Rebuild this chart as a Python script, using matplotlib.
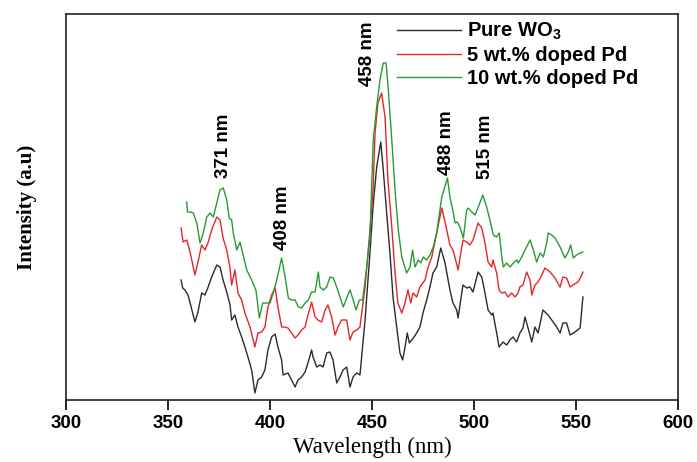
import matplotlib
matplotlib.use("Agg")
import matplotlib.pyplot as plt

plt.rcParams['mathtext.fontset'] = 'custom'
plt.rcParams['mathtext.rm'] = 'Liberation Sans'
plt.rcParams['mathtext.bf'] = 'Liberation Sans:bold'

# ---- data (wavelength nm, intensity a.u.) ----
pure_x = [356.4, 357.2, 358.3, 359.8, 361.1, 363.2, 364.7, 366.5, 368.1, 369.5, 371.4, 373.9, 375.5, 377.0,
          378.8, 380.4, 381.2, 382.8, 384.3, 386.1, 387.7, 389.2, 391.0, 392.6, 394.1, 395.9, 397.5, 399.0,
          400.8, 402.5, 403.9, 405.7, 406.4, 408.8, 410.6, 412.3, 413.7, 415.5, 417.2, 418.6, 420.4, 421.1,
          422.9, 424.5, 426.0, 427.8, 429.4, 430.9, 432.7, 434.3, 435.8, 437.6, 439.2, 440.7, 442.5, 444.1,
          446.6, 449.0, 450.5, 452.3, 454.3, 455.4, 457.2, 458.8, 460.3, 462.1, 463.7, 465.0, 466.2, 467.3,
          468.3, 469.5, 470.6, 471.9, 473.5, 475.0, 476.8, 478.4, 479.9, 481.7, 483.7, 485.8, 488.2, 489.7,
          491.5, 492.2, 494.0, 494.6, 496.4, 498.0, 499.5, 502.0, 503.8, 505.4, 506.9, 508.7, 509.3, 511.1,
          512.3, 514.2, 516.0, 517.6, 519.1, 520.9, 522.5, 524.0, 525.0, 526.5, 528.3, 529.9, 531.4, 533.8,
          536.3, 538.1, 540.5, 542.2, 543.6, 545.4, 547.1, 549.5, 552.0, 553.4]
pure_y = [120, 112, 110, 105, 95, 78, 88, 107, 105, 112, 123, 135, 133, 120,
          108, 95, 80, 85, 73, 63, 53, 43, 30, 7, 20, 23, 30, 50,
          63, 66, 53, 40, 25, 27, 20, 13, 20, 23, 28, 37, 50, 43,
          33, 35, 33, 47, 48, 40, 17, 23, 30, 33, 13, 23, 27, 25,
          80, 147, 193, 233, 258, 233, 187, 147, 103, 73, 47, 40, 53, 67,
          57, 60, 63, 67, 73, 87, 100, 113, 127, 133, 152, 137, 110, 97,
          90, 82, 107, 115, 112, 113, 108, 128, 123, 107, 90, 85, 87, 67,
          53, 58, 55, 60, 63, 58, 67, 72, 83, 72, 58, 73, 67, 90,
          85, 80, 73, 67, 77, 77, 65, 68, 72, 103]

pd5_x = [356.4, 357.4, 359.2, 360.8, 363.2, 364.7, 366.5, 368.1, 369.6, 371.4, 373.9, 375.5, 377.0, 378.8,
         380.4, 381.2, 382.8, 384.3, 386.1, 387.7, 390.2, 392.6, 394.1, 395.9, 397.5, 399.0, 400.8, 402.5,
         403.9, 405.7, 407.4, 408.8, 410.6, 412.3, 413.7, 415.5, 417.2, 418.6, 420.4, 422.1, 423.5, 425.3,
         427.0, 428.4, 430.2, 431.9, 433.3, 435.1, 437.6, 439.2, 440.7, 442.5, 444.1, 446.6, 449.0, 450.5,
         451.5, 452.9, 454.7, 456.4, 457.8, 459.7, 461.3, 462.7, 464.6, 466.2, 467.6, 469.0, 470.1, 471.9,
         473.5, 476.0, 477.5, 479.3, 481.7, 484.2, 485.8, 488.2, 489.7, 491.0, 492.2, 494.0, 494.6, 496.4,
         498.0, 499.5, 502.0, 503.8, 505.4, 506.9, 508.7, 509.3, 511.1, 512.3, 513.6, 515.2, 516.7, 518.5,
         520.1, 521.6, 522.5, 524.0, 525.8, 527.5, 528.3, 529.9, 531.4, 533.2, 534.8, 537.3, 539.7, 542.2,
         543.6, 545.4, 547.1, 548.5, 551.0, 552.8, 553.4]
pd5_y = [172, 158, 160, 148, 125, 138, 155, 150, 157, 170, 183, 180, 162, 150,
         132, 115, 130, 107, 100, 87, 73, 53, 67, 68, 73, 93, 105, 112,
         93, 73, 73, 72, 67, 62, 65, 70, 73, 85, 98, 83, 80, 78,
         90, 95, 83, 65, 73, 80, 80, 60, 68, 70, 73, 113, 170, 210,
         267, 297, 307, 283, 220, 173, 127, 97, 87, 97, 110, 97, 107, 103,
         113, 120, 133, 143, 167, 192, 178, 155, 150, 140, 130, 153, 160, 158,
         155, 160, 177, 172, 157, 138, 133, 140, 127, 110, 107, 108, 103, 107,
         103, 107, 113, 115, 128, 120, 105, 115, 118, 125, 132, 128, 122, 113,
         123, 122, 113, 115, 118, 125, 128]

pd10_x = [359.2, 359.5, 360.8, 362.4, 364.1, 365.7, 367.3, 369.0, 370.6, 372.2, 373.9, 375.5, 377.1, 378.8,
          380.0, 381.2, 382.0, 383.7, 385.3, 386.6, 388.6, 391.0, 393.1, 394.8, 396.4, 398.4, 400.0, 401.6,
          403.3, 404.6, 405.7, 407.4, 409.0, 410.6, 412.3, 413.9, 415.5, 417.2, 418.8, 420.4, 422.1, 423.7,
          424.5, 426.1, 427.8, 429.4, 431.0, 432.7, 434.3, 435.9, 437.6, 439.2, 440.8, 442.2, 443.8, 445.4,
          447.4, 449.0, 450.6, 452.3, 453.9, 455.5, 456.9, 458.0, 459.7, 461.3, 462.9, 464.6, 467.0, 468.6,
          469.9, 471.1, 472.7, 473.9, 475.1, 476.8, 478.4, 480.0, 481.7, 484.2, 487.0, 488.2, 489.9, 490.7,
          491.8, 493.1, 494.8, 496.4, 497.2, 498.9, 500.5, 502.1, 504.3, 506.2, 507.8, 509.5, 511.1, 512.4,
          513.6, 514.4, 516.0, 517.6, 519.3, 520.9, 521.7, 523.4, 525.0, 527.5, 529.1, 530.7, 532.4, 534.0,
          535.6, 536.4, 538.1, 539.7, 542.2, 544.6, 546.2, 547.4, 548.7, 550.3, 552.0, 553.3]
pd10_y = [198, 188, 188, 187, 177, 157, 167, 183, 187, 183, 197, 210, 212, 200,
          182, 180, 167, 150, 158, 147, 130, 120, 110, 82, 97, 97, 97, 107,
          120, 132, 142, 123, 102, 100, 100, 93, 92, 97, 100, 108, 108, 128,
          113, 110, 113, 123, 122, 113, 103, 93, 102, 110, 100, 90, 100, 100,
          133, 163, 260, 293, 320, 337, 337, 310, 260, 210, 170, 143, 127, 133,
          150, 133, 140, 137, 143, 140, 145, 153, 167, 203, 222, 203, 187, 177,
          178, 173, 162, 190, 192, 188, 185, 193, 205, 193, 180, 165, 163, 167,
          143, 133, 137, 133, 137, 140, 137, 143, 150, 160, 150, 138, 147, 143,
          157, 167, 165, 162, 153, 142, 148, 155, 142, 145, 147, 148]

series_labels = ['Pure WO$_{\\mathbf{3}}$', '5 wt.% doped Pd', '10 wt.% doped Pd']
series_colors = ['#2b2b2b', '#e3262b', '#2a9a35']

peak_labels = ['371 nm', '408 nm', '458 nm', '488 nm', '515 nm']
peak_label_x = [377.3, 405.9, 447.8, 486.3, 505.4]
peak_label_y = [254, 182, 346, 257, 253]

x_ticks = [300, 350, 400, 450, 500, 550, 600]

# ---- figure ----
fig = plt.figure(figsize=(6.97, 4.62), dpi=100)
ax = fig.add_axes([66/697, 1 - 400/462, 612/697, 386/462])

lines = []
for xs, ys, lab, col in zip([pure_x, pd5_x, pd10_x], [pure_y, pd5_y, pd10_y], series_labels, series_colors):
    ln, = ax.plot(xs, ys, color=col, lw=1.0, label=lab)
    lines.append(ln)

ax.set_xlim(300, 600)
ax.set_ylim(0, 386)
ax.set_xticks(x_ticks)
ax.set_xticklabels([str(t) for t in x_ticks], fontfamily='Liberation Sans', fontweight='bold', fontsize=13.5)
ax.set_yticks([])
ax.tick_params(axis='x', direction='out', length=7, width=1.2, pad=4)
for sp in ax.spines.values():
    sp.set_linewidth(1.2)
    sp.set_color('#222222')

ax.set_xlabel('Wavelength (nm)', fontfamily='Liberation Serif', fontsize=16.5, labelpad=3)
ax.set_ylabel('Intensity (a.u)', fontfamily='Liberation Serif', fontweight='bold', fontsize=15, labelpad=21)

for t, x, y in zip(peak_labels, peak_label_x, peak_label_y):
    ax.text(x, y, t, rotation=90, ha='center', va='center', fontfamily='Liberation Sans',
            fontweight='bold', fontsize=13.5)

leg = ax.legend(handles=lines, loc='upper left', bbox_to_anchor=(397/697, 1 - 21/462),
                bbox_transform=fig.transFigure, frameon=False, handlelength=3.2,
                handletextpad=0.3, labelspacing=0.2, borderpad=0, borderaxespad=0,
                prop={'family': 'Liberation Sans', 'weight': 'bold', 'size': 14.5})

fig.savefig('out.png', dpi=100)
